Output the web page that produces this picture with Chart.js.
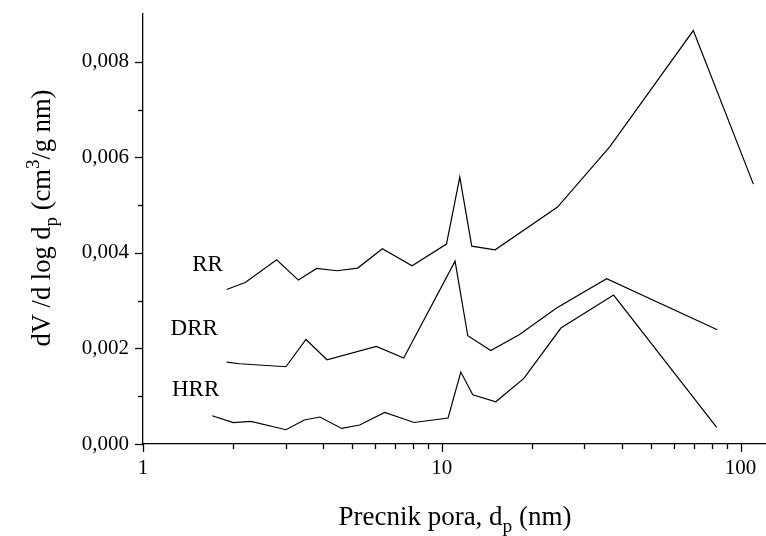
<!DOCTYPE html>
<html>
<head>
<meta charset="utf-8">
<script src="https://cdn.jsdelivr.net/npm/chart.js@4.4.1/dist/chart.umd.min.js"></script>
<style>
  html, body { margin: 0; padding: 0; background: #fff; }
  #wrap { position: relative; width: 766px; height: 536px; }
</style>
</head>
<body>
<div id="wrap"><canvas id="c" width="766" height="536"></canvas></div>
<script>
// Pore size distribution: pore diameter (nm) vs dV/dlog(dp) (cm3/g nm)
const rrDiameter  = [1.905, 2.199, 2.801, 3.311, 3.813, 4.459, 5.232, 6.329, 7.953, 10.37, 11.49, 12.60, 15.09, 24.41, 36.54, 69.50, 110.4];
const rrVolume    = [0.003234, 0.003381, 0.003856, 0.003431, 0.003674, 0.003626, 0.003682, 0.004086, 0.003730, 0.004184, 0.005586, 0.004142, 0.004065, 0.004958, 0.006226, 0.008653, 0.005439];

const drrDiameter = [1.905, 2.105, 3.009, 3.511, 4.128, 6.042, 7.459, 11.08, 12.22, 14.59, 18.16, 24.23, 35.63, 83.61];
const drrVolume   = [0.001715, 0.001680, 0.001617, 0.002188, 0.001764, 0.002042, 0.001799, 0.003828, 0.002266, 0.001958, 0.002287, 0.002845, 0.003458, 0.002391];

const hrrDiameter = [1.705, 2.005, 2.297, 3.009, 3.467, 3.911, 4.624, 5.313, 6.442, 8.076, 10.50, 11.58, 12.70, 15.17, 18.83, 25.05, 37.60, 83.22];
const hrrVolume   = [0.000592, 0.000446, 0.000473, 0.000299, 0.000502, 0.000565, 0.000326, 0.000397, 0.000661, 0.000450, 0.000544, 0.001506, 0.001031, 0.000885, 0.001372, 0.002427, 0.003117, 0.000347];

const seriesNames = ['RR', 'DRR', 'HRR'];
const xTickLabels = [1, 10, 100];
const yTickLabels = [0, 0.002, 0.004, 0.006, 0.008];

const FONT = '"Liberation Serif", "DejaVu Serif", serif';
Chart.defaults.font.family = FONT;
Chart.defaults.color = '#000';

function points(xs, ys) { return xs.map((x, i) => ({ x: x, y: ys[i] })); }

function lineSet(label, xs, ys) {
  return {
    label: label,
    data: points(xs, ys),
    borderColor: '#000',
    borderWidth: 1.2,
    pointRadius: 0,
    tension: 0,
    fill: false
  };
}

// Series name placed to the left of each curve (value coordinates, text right-aligned)
const seriesTags = [
  { text: seriesNames[0], x: 1.85, y: 0.00374 },
  { text: seriesNames[1], x: 1.78, y: 0.00240 },
  { text: seriesNames[2], x: 1.80, y: 0.00113 }
];

function measureRich(ctx, parts, size) {
  let w = 0;
  for (const p of parts) {
    const fs = p.sub || p.sup ? size * 0.72 : size;
    ctx.font = fs + 'px ' + FONT;
    w += ctx.measureText(p.t).width;
  }
  return w;
}
function paintRich(ctx, parts, size, x, y) {
  let cx = x;
  for (const p of parts) {
    const fs = p.sub || p.sup ? size * 0.72 : size;
    ctx.font = fs + 'px ' + FONT;
    let dy = 0;
    if (p.sub) dy = size * 0.25;
    if (p.sup) dy = -size * 0.42;
    ctx.fillText(p.t, cx, y + dy);
    cx += ctx.measureText(p.t).width;
  }
}

const decorations = {
  id: 'decorations',
  afterDraw(chart) {
    const ctx = chart.ctx;
    const xs = chart.scales.x, ys = chart.scales.y;
    const area = chart.chartArea;
    ctx.save();
    ctx.strokeStyle = '#000';
    ctx.fillStyle = '#000';
    ctx.lineWidth = 1.3;

    // y tick marks (outward), major every 0.002, minor every 0.001
    for (let k = 0; k <= 8; k++) {
      const v = k * 0.001;
      const py = Math.round(ys.getPixelForValue(v)) + 0.5;
      const len = (k % 2 === 0) ? 8 : 5;
      ctx.beginPath();
      ctx.moveTo(area.left, py);
      ctx.lineTo(area.left - len, py);
      ctx.stroke();
    }
    // x tick marks (outward), majors at decades, minors at 2..9
    for (let dec = 1; dec <= 100; dec *= 10) {
      for (let m = 1; m <= 9; m++) {
        const v = dec * m;
        if (v > xs.max) break;
        const px = Math.round(xs.getPixelForValue(v)) + 0.5;
        const len = (m === 1) ? 8 : 5;
        ctx.beginPath();
        ctx.moveTo(px, area.bottom);
        ctx.lineTo(px, area.bottom + len);
        ctx.stroke();
      }
    }

    // series names
    ctx.font = '23px ' + FONT;
    ctx.textAlign = 'right';
    ctx.textBaseline = 'middle';
    for (const t of seriesTags) {
      ctx.fillText(t.text, xs.getPixelForValue(t.x), ys.getPixelForValue(t.y));
    }

    // axis titles with sub/superscripts
    ctx.textAlign = 'left';
    ctx.textBaseline = 'alphabetic';
    const xTitle = [{ t: 'Precnik pora, d' }, { t: 'p', sub: true }, { t: ' (nm)' }];
    const xSize = 27;
    const xw = measureRich(ctx, xTitle, xSize);
    paintRich(ctx, xTitle, xSize, 455 - xw / 2, 525);

    const yTitle = [{ t: 'dV /d log d' }, { t: 'p', sub: true }, { t: ' (cm' }, { t: '3', sup: true }, { t: '/g nm)' }];
    const ySize = 26.5;
    const yw = measureRich(ctx, yTitle, ySize);
    ctx.translate(50, 218);
    ctx.rotate(-Math.PI / 2);
    paintRich(ctx, yTitle, ySize, -yw / 2, 0);
    ctx.restore();
  }
};

new Chart(document.getElementById('c'), {
  type: 'line',
  data: {
    datasets: [
      lineSet(seriesNames[0], rrDiameter, rrVolume),
      lineSet(seriesNames[1], drrDiameter, drrVolume),
      lineSet(seriesNames[2], hrrDiameter, hrrVolume)
    ]
  },
  options: {
    responsive: false,
    animation: false,
    devicePixelRatio: 1,
    layout: { padding: { top: 14, right: 0, left: 0, bottom: 0 } },
    plugins: { legend: { display: false }, tooltip: { enabled: false } },
    scales: {
      x: {
        type: 'logarithmic',
        min: 1,
        max: 121.7,
        grid: { display: false, drawTicks: false },
        border: { display: true, color: '#000', width: 1.3 },
        ticks: {
          autoSkip: false,
          maxRotation: 0,
          padding: 12,
          font: { size: 21 },
          callback: function (v) { return xTickLabels.includes(v) ? String(v) : ''; }
        },
        afterFit: function (s) { s.height = 92; s.paddingLeft = 0; s.paddingRight = 0; }
      },
      y: {
        type: 'linear',
        min: 0,
        max: 0.009,
        grid: { display: false, drawTicks: false },
        border: { display: true, color: '#000', width: 1.3 },
        ticks: {
          stepSize: 0.001,
          padding: 14,
          font: { size: 21 },
          callback: function (v) {
            const hit = yTickLabels.find(t => Math.abs(t - v) < 1e-9);
            return hit === undefined ? '' : hit.toFixed(3).replace('.', ',');
          }
        },
        afterFit: function (s) { s.width = 143; s.paddingTop = 0; s.paddingBottom = 0; }
      }
    }
  },
  plugins: [decorations]
});
</script>
</body>
</html>
